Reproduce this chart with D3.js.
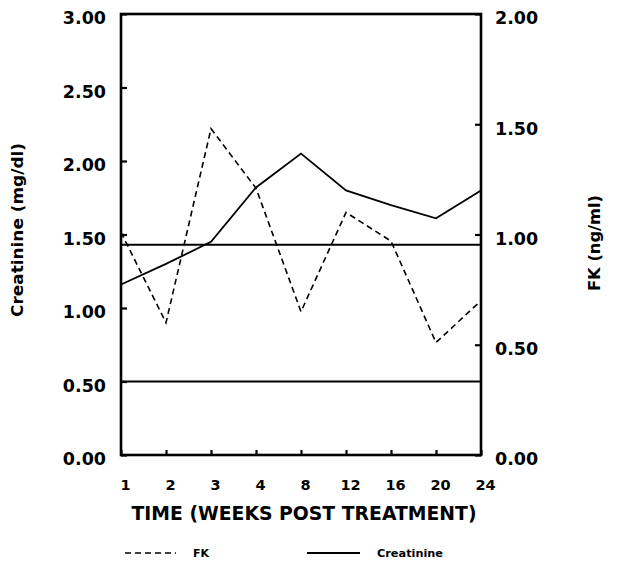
<!DOCTYPE html>
<html>
<head>
<meta charset="utf-8">
<script src="https://cdn.jsdelivr.net/npm/d3@7"></script>
<style>
  html, body { margin: 0; padding: 0; background: #fff; }
  svg { display: block; }
  text { font-family: "DejaVu Sans", "Liberation Sans", Arial, sans-serif; font-weight: bold; fill: #000; }
</style>
</head>
<body>
<svg id="chart" width="617" height="563"></svg>
<script>
// ---- Data ----
const weeks = ["1", "2", "3", "4", "8", "12", "16", "20", "24"];
const creatinine = [1.16, 1.30, 1.45, 1.82, 2.05, 1.80, 1.70, 1.61, 1.80];
const fk = [1.01, 0.60, 1.48, 1.21, 0.65, 1.10, 0.97, 0.51, 0.70];
const referenceLines = [0.5, 1.43];           // creatinine normal range (left axis)
const leftTicks = [0, 0.5, 1, 1.5, 2, 2.5, 3];
const rightTicks = [0, 0.5, 1, 1.5, 2];
const xTitle = "TIME (WEEKS POST TREATMENT)";
const leftTitle = "Creatinine (mg/dl)";
const rightTitle = "FK (ng/ml)";
const legendLabels = ["FK", "Creatinine"];

// ---- Layout ----
const W = 617, H = 563;
const margin = { left: 121, right: 136, top: 14, bottom: 108 };
const x0 = margin.left, x1 = W - margin.right, y0 = H - margin.bottom, y1 = margin.top;

const svg = d3.select("#chart");

const x = d3.scalePoint().domain(weeks).range([x0, x1]);
const yL = d3.scaleLinear().domain([0, 3]).range([y0, y1]);
const yR = d3.scaleLinear().domain([0, 2]).range([y0, y1]);

// reference lines
svg.append("g").selectAll("line").data(referenceLines).join("line")
  .attr("x1", x0).attr("x2", x1)
  .attr("y1", d => yL(d)).attr("y2", d => yL(d))
  .attr("stroke", "#000").attr("stroke-width", 2);

// data lines
const lineC = d3.line().x((d, i) => x(weeks[i])).y(d => yL(d));
const lineF = d3.line().x((d, i) => x(weeks[i])).y(d => yR(d));

svg.append("path").datum(fk)
  .attr("d", lineF).attr("fill", "none").attr("stroke", "#000")
  .attr("stroke-width", 1.6).attr("stroke-dasharray", "6,4");

svg.append("path").datum(creatinine)
  .attr("d", lineC).attr("fill", "none").attr("stroke", "#000")
  .attr("stroke-width", 1.8).attr("stroke-linejoin", "miter");

// axes
const fmt = d3.format(".2f");
const gL = svg.append("g").attr("transform", `translate(${x0},0)`)
  .call(d3.axisLeft(yL).tickValues(leftTicks).tickFormat(fmt).tickSize(-6).tickPadding(15));
const gR = svg.append("g").attr("transform", `translate(${x1},0)`)
  .call(d3.axisRight(yR).tickValues(rightTicks).tickFormat(fmt).tickSize(-6).tickPadding(14));
const gB = svg.append("g").attr("transform", `translate(0,${y0})`)
  .call(d3.axisBottom(x).tickSize(-5).tickPadding(0));

[gL, gR, gB].forEach(g => {
  g.select(".domain").remove();
  g.selectAll(".tick line").attr("stroke", "#000").attr("stroke-width", 2.2);
  g.selectAll("text").attr("fill", "#000").attr("font-family", null).attr("font-size", null);
});
gL.selectAll("text").style("font-size", "17.5px").attr("dy", "0.57em");
gR.selectAll("text").style("font-size", "17.5px").attr("dy", "0.57em");
gB.selectAll(".tick text").style("font-size", "14.5px")
  .attr("y", 35).attr("dy", 0).attr("x", 4);

// frame
svg.append("rect").attr("x", x0).attr("y", y1)
  .attr("width", x1 - x0).attr("height", y0 - y1)
  .attr("fill", "none").attr("stroke", "#000").attr("stroke-width", 2.6);

// titles
svg.append("text").attr("x", 304).attr("y", 520)
  .attr("text-anchor", "middle").style("font-size", "18.8px")
  .attr("textLength", 345).attr("lengthAdjust", "spacingAndGlyphs")
  .text(xTitle);

svg.append("text").attr("transform", "translate(23,230) rotate(-90)")
  .attr("text-anchor", "middle").style("font-size", "16.5px")
  .attr("textLength", 174).attr("lengthAdjust", "spacingAndGlyphs")
  .text(leftTitle);

svg.append("text").attr("transform", "translate(600,243) rotate(-90)")
  .attr("text-anchor", "middle").style("font-size", "16.5px")
  .attr("textLength", 96).attr("lengthAdjust", "spacingAndGlyphs")
  .text(rightTitle);

// legend
const legY = 553;
const leg = svg.append("g");
leg.append("line").attr("x1", 125).attr("x2", 176).attr("y1", legY).attr("y2", legY)
  .attr("stroke", "#000").attr("stroke-width", 1.6).attr("stroke-dasharray", "6,4");
leg.append("text").attr("x", 193).attr("y", legY + 4).style("font-size", "11px").text(legendLabels[0]);
leg.append("line").attr("x1", 307).attr("x2", 360).attr("y1", legY).attr("y2", legY)
  .attr("stroke", "#000").attr("stroke-width", 1.8);
leg.append("text").attr("x", 377).attr("y", legY + 4).style("font-size", "11px")
  .attr("textLength", 66).attr("lengthAdjust", "spacingAndGlyphs").text(legendLabels[1]);
</script>
</body>
</html>
